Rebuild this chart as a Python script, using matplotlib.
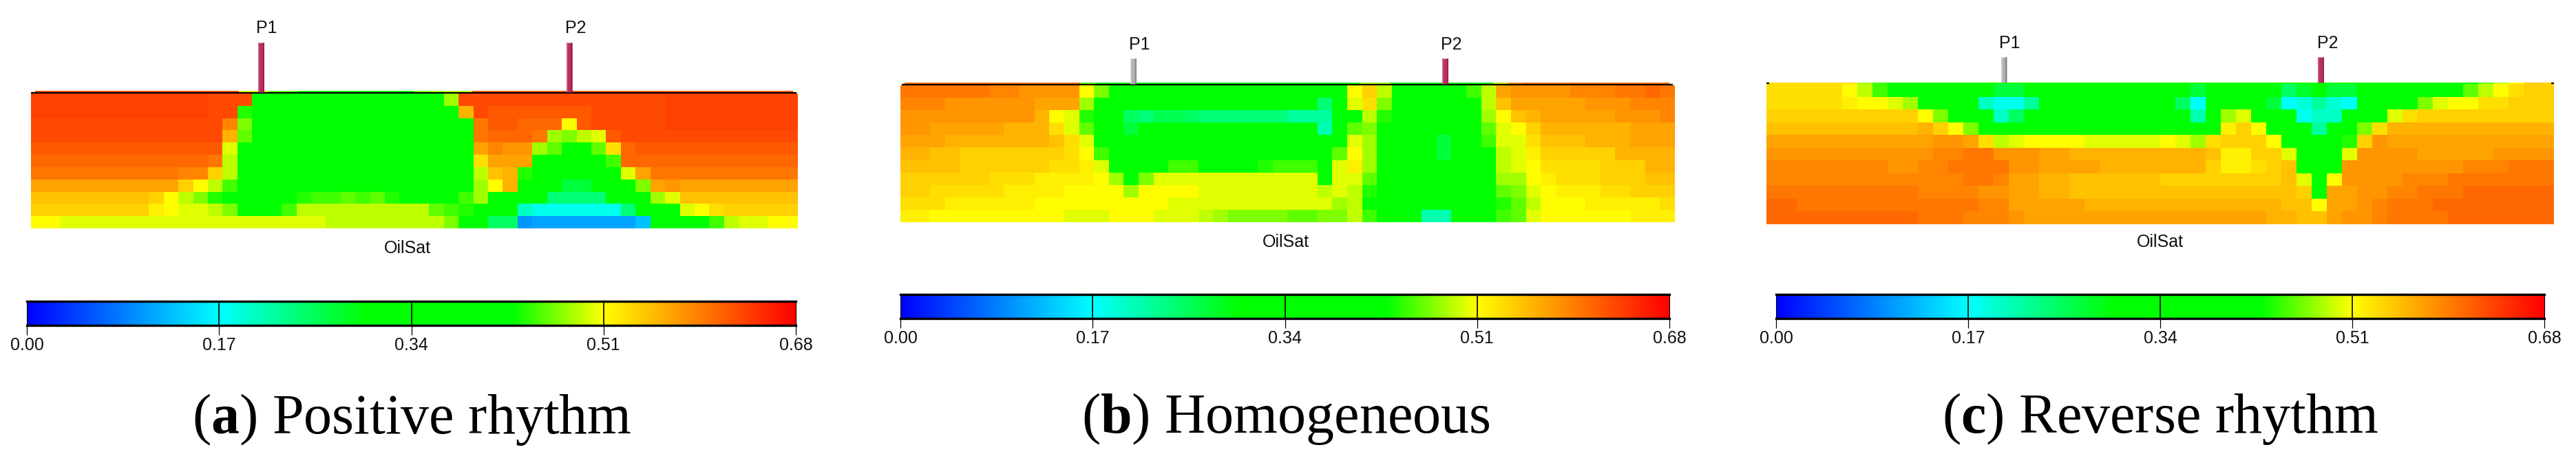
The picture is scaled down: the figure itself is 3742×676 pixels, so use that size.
import numpy as np
import matplotlib as mpl
mpl.use('Agg')
import matplotlib.pyplot as plt
from matplotlib.colors import LinearSegmentedColormap, Normalize

mpl.rcParams['font.family'] = 'Liberation Sans'
mpl.rcParams['mathtext.fontset'] = 'custom'
mpl.rcParams['mathtext.rm'] = 'Liberation Serif'
mpl.rcParams['mathtext.bf'] = 'Liberation Serif:bold'

W, H = 3742, 676

# oil saturation x 100, one row per layer
grid_a = [
    [63.5,63.5,63.5,63.5,63.5,63.5,63.5,63.5,63.5,63.5,63.5,63.5,63,63,63,40,40,40,40,40,40,40,40,40,40,40,40,40,48,63,63,63,63,63,63,63,63,63,63,63,63,63,63,63.5,63.5,63.5,63.5,63.5,63.5,63.5,63.5,63.5],
    [63.5,63.5,63.5,63.5,63.5,63.5,63.5,63.5,63.5,63.5,63.5,63.5,63,63,44,40,40,40,40,40,40,40,40,40,40,40,40,40,40,56,63,62,62,62,62,62,62,62,63,63,63,63,63,63.5,63.5,63.5,63.5,63.5,63.5,63.5,63.5,63.5],
    [63,63,63,63,63,63,63,63,63,63,63,63,63,59,47,40,40,40,40,40,40,40,40,40,40,40,40,40,40,40,60,62,62,61,61,61,51,62,63,63,63,63,63,63.5,63.5,63.5,63.5,63.5,63.5,63.5,63.5,63.5],
    [63,63,63,63,63,63,63,63,63,63,63,63,63,56,46,40,40,40,40,40,40,40,40,40,40,40,40,40,40,40,60,61,61,61,60,48,47,49,50,62,63,63,63,63,63,63,63,63,63,63,63,63],
    [62,62,62,62,62,62,62,62,62,62,62,62,62,50,40,40,40,40,40,40,40,40,40,40,40,40,40,40,40,40,57,59,58,58,48,46,40,40,46,53,61,62,62,62,62,62,62,62,62,62,62,62],
    [61,61,61,61,61,61,61,61,61,61,61,61,60,49,40,40,40,40,40,40,40,40,40,40,40,40,40,40,40,40,53,57,57,57,40,40,40,40,40,45,61,61,61,61,61,61,61,61,61,61,61,61],
    [60,60,60,60,60,60,60,60,60,60,59,59,54,49,40,40,40,40,40,40,40,40,40,40,40,40,40,40,40,40,49,55,56,44,40,40,40,40,40,40,50,57,60,60,60,60,60,60,60,60,60,60],
    [57,57,57,57,57,57,57,57,57,57,54,51,49,45,40,40,40,40,40,40,40,40,40,40,40,40,40,40,40,40,48,51,56,40,40,40,27,27,40,40,40,47,57,58,57,57,57,57,57,57,57,57],
    [55,55,55,55,55,55,55,55,54,51,49,47,44,40,40,40,40,40,44,45,45,46,45,46,44,40,40,40,40,45,48,40,40,40,40,24,24,24,24,40,40,40,48,50,55,55,55,55,55,55,55,55],
    [54,54,54,54,54,54,54,54,52,51,50,50,49,47,40,40,40,45,49,49,49,49,49,49,49,49,49,46,45,44,40,40,40,20,18,18,18,18,18,18,24,40,40,40,50,51,53,54,54,54,54,54],
    [51,51,50,50,50,50,50,50,50,50,50,50,50,50,50,50,50,50,50,50,49,49,49,49,49,49,49,49,47,40,40,25,25,10,11,11,11,11,11,11,11,13,40,40,40,40,45,49,50,50,51,51],
]
grid_b = [
    [60,60,60,60,60,60,59,59,58,58,58,58,51,47,40,40,40,40,40,40,40,40,40,40,40,40,40,40,40,40,51,54,49,40,40,40,40,40,45,49,57,58,58,58,58,59,59,59,60,60,61,60],
    [59,59,59,58,58,58,58,58,58,57,57,57,48,40,40,40,40,40,40,40,40,40,40,40,40,40,40,40,24,40,50,53,47,40,40,40,40,40,40,49,55,57,57,57,57,57,58,58,58,59,59,59],
    [58,58,58,58,58,58,58,58,58,56,51,50,44,40,40,25,24,26,26,25,24,24,24,24,24,24,22,22,22,40,40,49,44,40,40,40,40,40,40,48,51,55,56,57,57,57,57,57,58,58,58,59],
    [58,58,57,57,57,57,57,56,56,56,53,50,46,40,40,27,40,40,40,40,40,40,40,40,40,40,40,40,21,40,46,47,40,40,40,40,40,40,40,46,50,51,54,56,56,56,56,56,56,57,57,57],
    [57,57,57,56,56,56,56,56,56,56,55,53,50,40,40,40,40,40,40,40,40,40,40,40,40,40,40,40,40,40,50,48,40,40,40,40,27,40,40,45,50,50,53,55,55,55,56,56,56,57,57,57],
    [56,56,55,55,54,54,54,54,54,54,54,53,51,45,40,40,40,40,40,40,40,40,40,40,40,40,40,40,40,46,51,48,40,40,40,40,27,40,40,40,49,50,52,54,54,54,54,54,56,56,56,56],
    [55,55,55,55,54,54,54,54,54,54,53,53,52,50,40,40,40,40,45,45,40,40,40,40,44,45,45,45,40,50,52,48,40,40,40,40,40,40,40,40,49,50,51,53,53,53,53,54,54,54,56,56],
    [54,54,54,54,54,54,53,53,53,52,52,52,52,51,48,40,47,50,50,50,50,50,50,50,50,50,50,50,40,50,50,46,40,40,40,40,40,40,40,40,48,48,51,52,53,53,53,54,54,54,55,55],
    [54,54,53,53,53,53,53,52,52,52,52,51,51,51,51,48,51,51,51,51,50,50,50,50,50,50,50,50,49,50,49,44,40,40,40,40,40,40,40,40,46,47,50,51,52,52,52,53,53,54,54,54],
    [53,53,53,52,52,52,52,52,52,51,51,51,51,51,51,51,51,51,50,50,50,50,50,50,50,50,50,50,50,48,49,40,40,40,40,40,40,40,40,40,44,46,49,51,51,51,52,52,52,52,52,53],
    [52,52,51,51,51,51,51,51,51,51,51,50,50,50,51,51,51,50,50,50,49,48,47,47,47,47,46,46,47,47,49,45,40,40,40,21,21,40,40,40,45,46,50,51,51,51,51,51,51,52,52,52],
]
grid_c = [
    [53,53,53,53,53,51,49,45,40,40,40,40,40,40,40,27,27,40,40,40,40,40,40,40,40,40,40,40,27,40,40,40,40,40,25,28,40,27,27,40,40,40,40,40,40,40,46,49,51,53,54,54],
    [53,53,53,53,53,52,51,51,50,48,40,40,40,40,20,18,18,22,40,40,40,40,40,40,40,40,40,25,17,40,40,40,40,27,17,19,22,19,17,40,40,40,40,47,50,51,51,53,53,54,54,54],
    [54,54,54,54,54,54,54,54,54,54,51,47,40,40,40,20,25,40,40,40,40,40,40,40,40,40,40,40,21,40,48,50,40,40,40,18,20,20,40,40,40,50,53,54,54,54,54,54,54,54,54,54],
    [55,55,55,55,55,55,55,55,55,55,56,54,51,47,40,40,40,40,40,40,40,40,40,40,40,40,40,40,40,40,52,54,51,40,40,40,22,40,40,47,53,56,56,56,56,56,56,56,56,56,56,56],
    [57,57,57,57,57,57,57,57,57,57,57,58,58,57,53,49,50,51,51,51,51,50,50,50,50,50,51,50,48,53,54,54,54,51,40,40,40,40,44,54,58,57,57,57,57,57,57,57,57,57,57,57],
    [58,58,58,58,58,58,58,58,58,58,58,59,59,60,60,58,58,58,57,57,56,56,56,56,56,56,56,56,56,55,52,52,54,54,50,40,40,40,50,58,58,58,58,57,57,57,57,57,58,58,58,58],
    [59,59,59,59,59,59,59,59,58,58,59,59,60,60,60,60,58,58,57,57,57,57,56,56,56,56,56,56,56,54,52,52,53,54,55,40,40,40,58,58,58,58,58,58,58,58,59,59,59,60,60,60],
    [59,59,59,59,59,59,59,59,59,59,59,59,59,60,60,59,57,57,56,56,55,55,55,55,55,55,54,54,54,54,54,54,54,54,55,50,40,51,58,58,58,58,59,59,59,60,60,60,60,60,60,60],
    [60,60,60,60,60,60,60,60,60,60,59,59,59,59,58,58,57,57,56,56,55,55,55,55,55,55,55,55,55,55,55,55,55,55,55,54,40,57,57,58,58,59,59,60,60,60,61,61,61,61,61,61],
    [61,61,60,60,60,60,60,60,60,60,60,60,60,60,59,59,57,57,57,57,57,56,56,56,56,56,56,56,56,56,56,56,56,56,55,55,51,57,57,58,59,60,60,60,61,61,61,61,61,61,61,61],
    [61,61,61,61,61,61,61,61,61,61,60,60,60,59,59,59,58,57,57,57,57,57,57,57,57,57,57,57,57,57,57,57,57,56,56,55,55,57,58,58,59,60,60,60,60,61,61,61,61,61,61,61],
]

# thin surface layer drawn above the section
top_a = [63,63,63,63,63,63,63,63,63,63,63,63,63,63,50,50,46,46,40,40,40,40,40,40,40,40,47,48,49,49,62,62,62,62,62,62,62,62,62,62,62,62,62,62,62,62,62,62,62,62,62,62]
top_b = [60,60,60,60,60,60,60,60,60,60,60,60,46,40,40,40,40,40,40,40,40,40,40,40,40,40,40,40,40,40,44,48,48,40,40,40,40,40,40,40,49,58,60,60,60,60,60,60,60,60,60,60]
top_c = [53,53,53,53,53,53,48,45,40,40,40,40,40,40,40,40,40,40,40,40,40,40,40,40,40,40,40,40,40,40,40,40,40,40,40,40,40,40,40,40,40,40,40,40,40,40,40,46,49,51,54,54]

tick_values = [0.00, 0.17, 0.34, 0.51, 0.68]
tick_labels = ['0.00', '0.17', '0.34', '0.51', '0.68']
captions = [r'($\mathbf{a}$) Positive rhythm', r'($\mathbf{b}$) Homogeneous', r'($\mathbf{c}$) Reverse rhythm']
well_names = ['P1', 'P2']
# body, lit edge, shaded edge
well_color = {'red': ('#b83060', '#cf5f88', '#8e2048'), 'gray': ('#b0b0b0', '#d4d4d4', '#808080')}

# pixel layout of the three panels
panels = [
    dict(grid=grid_a, top=top_a, map_box=(45, 136, 1159, 332), top_box=(51, 132, 1152, 134),
         line=(45, 1157, 135), wells=[(379.5, 'red'), (827, 'red')], well_y=(62, 134), lab_x=(387, 836), lab_y=41,
         oil=(592, 361), bar=(39, 438, 1156, 473), cap=(598, 630)),
    dict(grid=grid_b, top=top_b, map_box=(1308, 124, 2433, 323), top_box=(1314, 120, 2425, 122),
         line=(1310, 2430, 123), wells=[(1646.5, 'gray'), (2099.5, 'red')], well_y=(85, 122), lab_x=(1655, 2108), lab_y=65.5,
         oil=(1868, 352), bar=(1308, 428, 2425, 463), cap=(1868, 629)),
    dict(grid=grid_c, top=top_c, map_box=(2566, 122, 3710, 326), top_box=(2566, 120, 3710, 122),
         line=None, wells=[(2911, 'gray'), (3371.5, 'red')], well_y=(83, 120), lab_x=(2919, 3381), lab_y=63.5,
         oil=(3138, 352), bar=(2580, 428, 3696, 463), cap=(3138, 629)),
]

cmap = LinearSegmentedColormap.from_list('oilsat', [
    (0.0, '#0000ff'), (0.17 / 0.68, '#00ffff'), (0.30 / 0.68, '#00ff00'),
    (0.43 / 0.68, '#00ff00'), (0.51 / 0.68, '#ffff00'), (1.0, '#ff0000')], N=512)
norm = Normalize(0, 0.68)


def px_axes(fig, box):
    x0, y0, x1, y1 = box
    return fig.add_axes([x0 / W, 1 - y1 / H, (x1 - x0) / W, (y1 - y0) / H])


fig = plt.figure(figsize=(W / 100, H / 100), dpi=100, facecolor='white')

# overlay in pixel coordinates for wells and labels
ov = fig.add_axes([0, 0, 1, 1], zorder=5)
ov.set_xlim(0, W)
ov.set_ylim(H, 0)
ov.axis('off')
ov.patch.set_alpha(0)

for p in panels:
    ax = px_axes(fig, p['map_box'])
    ax.imshow(np.array(p['grid']) / 100, cmap=cmap, norm=norm, aspect='auto', interpolation='nearest')
    ax.axis('off')

    ax_top = px_axes(fig, p['top_box'])
    ax_top.imshow(np.array([p['top']]) / 100, cmap=cmap, norm=norm, aspect='auto', interpolation='nearest')
    ax_top.axis('off')

    if p['line']:
        ov.plot(p['line'][:2], [p['line'][2]] * 2, color='black', lw=1.6, solid_capstyle='butt')
    else:
        ov.plot([2566, 2570], [121, 121], color='black', lw=1.6, solid_capstyle='butt')
        ov.plot([3706, 3710], [121, 121], color='black', lw=1.6, solid_capstyle='butt')

    for (wx, wc), lx, name in zip(p['wells'], p['lab_x'], well_names):
        body, lit, shade = well_color[wc]
        ov.plot([wx, wx], p['well_y'], color=body, lw=6.2, solid_capstyle='butt')
        ov.plot([wx - 3.4, wx - 3.4], p['well_y'], color=lit, lw=1.2, solid_capstyle='butt')
        ov.plot([wx + 3.4, wx + 3.4], p['well_y'], color=shade, lw=1.2, solid_capstyle='butt')
        ov.text(lx, p['lab_y'], name, ha='center', va='center', fontsize=18, color='#111111')

    ov.text(p['oil'][0], p['oil'][1], 'OilSat', ha='center', va='center', fontsize=18, color='#111111')
    ov.text(p['cap'][0], p['cap'][1], captions[panels.index(p)], ha='center', va='baseline',
            fontsize=59, family='Liberation Serif', color='black')

    bar = px_axes(fig, p['bar'])
    grad = np.linspace(0, 0.68, 512)[None, :]
    bar.imshow(grad, cmap=cmap, norm=norm, aspect='auto', extent=(0, 0.68, 1, 0))
    for t in tick_values[1:-1]:
        bar.axvline(t, color='black', lw=1.2)
    bar.set_yticks([])
    bar.set_xticks(tick_values)
    bar.set_xticklabels(tick_labels, fontsize=18, color='#111111')
    bar.tick_params(axis='x', length=10, width=0.9, pad=2)
    for s in ['top', 'bottom']:
        bar.spines[s].set_linewidth(2.4)
    for s in ['left', 'right']:
        bar.spines[s].set_linewidth(0.8)

fig.savefig('out.png', dpi=100)
